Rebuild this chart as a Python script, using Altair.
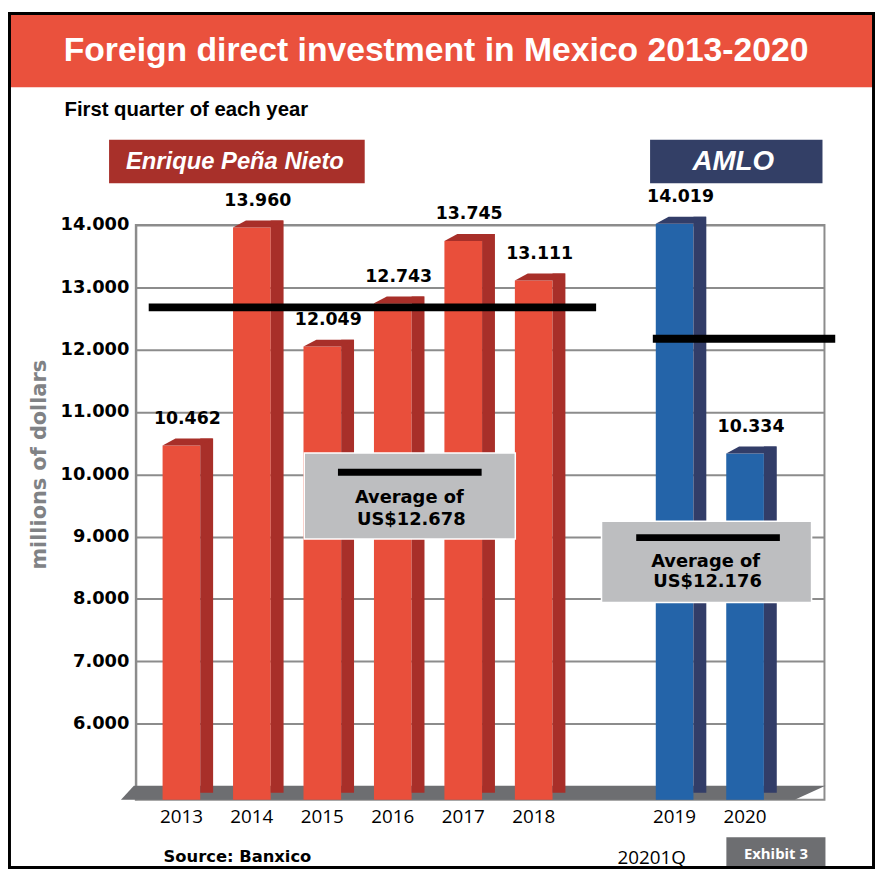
import altair as alt
import pandas as pd

# ---------------- data ----------------
years = ["2013", "2014", "2015", "2016", "2017", "2018", "2019", "2020"]
fdi = [10462, 13960, 12049, 12743, 13745, 13111, 14019, 10334]
term = ["EPN", "EPN", "EPN", "EPN", "EPN", "EPN", "AMLO", "AMLO"]
x_slots = ["2013", "2014", "2015", "2016", "2017", "2018", " ", "2019", "2020"]
y_tick_values = [6000, 7000, 8000, 9000, 10000, 11000, 12000, 13000, 14000]
y_base = 4780
y_top = 14000

title_text = "Foreign direct investment in Mexico 2013-2020"
subtitle_text = "First quarter of each year"
epn_name = "Enrique Peña Nieto"
amlo_name = "AMLO"
y_title = "millions of dollars"
source_text = "Source: Banxico"
period_text = "20201Q"
exhibit_text = "Exhibit 3"


def dotted(v):
    return f"{v:,}".replace(",", ".")


df = pd.DataFrame({"year": years, "fdi": fdi, "term": term,
                   "label": [dotted(v) for v in fdi]})

epn_vals = [v for v, t in zip(fdi, term) if t == "EPN"]
amlo_vals = [v for v, t in zip(fdi, term) if t == "AMLO"]
epn_years = [y for y, t in zip(years, term) if t == "EPN"]
amlo_years = [y for y, t in zip(years, term) if t == "AMLO"]
epn_avg = int(sum(epn_vals) / len(epn_vals))
amlo_avg = int(sum(amlo_vals) / len(amlo_vals))

# ---------------- styling ----------------
W, H = 695, 580
SANS = "Liberation Sans, Arial, sans-serif"
HEAVY = "DejaVu Sans"
REG = "Open Sans"
RED_FRONT, RED_SIDE = "#e94f3b", "#a82f29"
BLUE_FRONT, BLUE_SIDE = "#2464a9", "#323d68"
GRID = "#8c8c8c"

TOP_PATH = "M -1 0 L 0.4902 0 L 1 -0.2745 L -0.4902 -0.2745 Z"
FLOOR_PATH = "M -0.9634 -0.0197 L 1 -0.0197 L 0.9128 0.0197 L -1 0.0197 Z"

one = alt.Data(values=[{}])

x_enc = alt.X("year:N",
              scale=alt.Scale(domain=x_slots, paddingInner=0, paddingOuter=0.387, align=0.19),
              axis=alt.Axis(title=None, labelFont=REG, labelFontSize=19, labelColor="black",
                            labelAngle=0, domain=False, ticks=False, grid=False, labelPadding=8))
y_scale = alt.Scale(domain=[y_base, y_top], zero=False, nice=False)
y_enc = alt.Y("fdi:Q", scale=y_scale,
              axis=alt.Axis(title=None, values=y_tick_values, grid=True, gridColor=GRID, gridWidth=2,
                            domainColor=GRID, domainWidth=2, ticks=False, labelPadding=7,
                            labelFont=HEAVY, labelFontWeight="bold", labelFontSize=18,
                            labelColor="black",
                            labelExpr="replace(format(datum.value, ','), ',', '.')"))

base = alt.Chart(df)

floor = alt.Chart(one).mark_point(shape=FLOOR_PATH, size=711 ** 2, filled=True, opacity=1,
                                  strokeWidth=0, color="#6d6e71").encode(
    x=alt.value(340.5), y=alt.value(573))

front = base.mark_bar(width=38).encode(
    x=x_enc, y=y_enc, y2=alt.datum(y_base),
    color=alt.Color("term:N", scale=alt.Scale(domain=["EPN", "AMLO"], range=[RED_FRONT, BLUE_FRONT]),
                    legend=None))

side = base.mark_bar(width=13, xOffset=25.5, yOffset=-7, y2Offset=-7).encode(
    x=alt.X("year:N"), y=alt.Y("fdi:Q"), y2=alt.datum(y_base),
    color=alt.Color("term:N", scale=alt.Scale(domain=["EPN", "AMLO"], range=[RED_SIDE, BLUE_SIDE]),
                    legend=None))

top = base.mark_point(shape=TOP_PATH, size=51 ** 2, filled=True, opacity=1, strokeWidth=0,
                      xOffset=6.5).encode(
    x=alt.X("year:N"), y=alt.Y("fdi:Q"),
    color=alt.Color("term:N", scale=alt.Scale(domain=["EPN", "AMLO"], range=[RED_SIDE, BLUE_SIDE]),
                    legend=None))

labels = base.mark_text(font=HEAVY, fontWeight="bold", fontSize=17.5, color="black",
                        baseline="alphabetic", dx=6, dy=-22).encode(
    x=alt.X("year:N"), y=alt.Y("fdi:Q"), text="label:N")

epn_line = alt.Chart(pd.DataFrame({"a": [epn_years[0]], "b": [epn_years[-1]], "fdi": [epn_avg]})).mark_rule(
    strokeWidth=8, color="black", strokeCap="butt", xOffset=-33, x2Offset=63).encode(
    x=alt.X("a:N"), x2="b:N", y=alt.Y("fdi:Q"))
amlo_line = alt.Chart(pd.DataFrame({"a": [amlo_years[0]], "b": [amlo_years[-1]], "fdi": [amlo_avg]})).mark_rule(
    strokeWidth=8, color="black", strokeCap="butt", xOffset=-22, x2Offset=91).encode(
    x=alt.X("a:N"), x2="b:N", y=alt.Y("fdi:Q"))


def box(x1, x2, y1, y2, fill, stroke=None, sw=0):
    kw = dict(fill=fill, strokeWidth=sw)
    if stroke:
        kw["stroke"] = stroke
    return alt.Chart(one).mark_rect(**kw).encode(
        x=alt.value(x1), x2=alt.value(x2), y=alt.value(y1), y2=alt.value(y2))


def txt(s, x, y, size, font, color="black", weight="normal", style="normal", align="center",
        baseline="alphabetic", angle=0):
    return alt.Chart(one).mark_text(text=s, font=font, fontSize=size, color=color, fontWeight=weight,
                                    fontStyle=style, align=align, baseline=baseline, angle=angle).encode(
        x=alt.value(x), y=alt.value(y))


epn_box = box(170, 383, 230, 317, "#bdbec0", "white", 1.5)
epn_bar = box(204, 349, 246, 253, "black")
epn_t1 = txt("Average of", 276, 281, 18, HEAVY, weight="bold")
epn_t2 = txt("US$" + dotted(epn_avg), 278, 303, 18, HEAVY, weight="bold")

amlo_box = box(470, 682, 299, 381, "#bdbec0", "white", 1.5)
amlo_bar = box(505, 650, 312, 319, "black")
amlo_t1 = txt("Average of", 575, 345, 18, HEAVY, weight="bold")
amlo_t2 = txt("US$" + dotted(amlo_avg), 577, 365, 18, HEAVY, weight="bold")

header = box(-137, 746, -213, -139, "#ea513d")
frame = alt.Chart(one).mark_rect(fillOpacity=0, stroke="black", strokeWidth=3).encode(
    x=alt.value(-127.5), x2=alt.value(744.5), y=alt.value(-213.5), y2=alt.value(648.5))
title = txt(title_text, 303, -166, 34, SANS, color="white", weight="bold")
subtitle = txt(subtitle_text, -72, -110, 20.5, SANS, weight="bold", align="left")
epn_tag = box(-27, 231, -86, -42, "#a8302a")
epn_tag_t = txt(epn_name, 100, -64, 24, SANS, color="white", weight="bold", style="italic",
                baseline="middle")
amlo_tag = box(519, 693, -86, -42, "#333f66")
amlo_tag_t = txt(amlo_name, 603, -64, 28, SANS, color="white", weight="bold", style="italic",
                 baseline="middle")
ytitle = txt(y_title, -97, 242, 21, HEAVY, color="#808285", weight="bold", baseline="middle",
             angle=270)
source = txt(source_text, 28, 643, 16.5, HEAVY, weight="bold", align="left")
period = txt(period_text, 486, 645, 19, REG, align="left")
exhibit_box = box(596, 696, 618, 650, "#6d6e71")
exhibit_t = txt(exhibit_text, 646, 640, 15, REG, color="white", weight="bold")

chart = alt.layer(
    floor, front, side, top, epn_line, amlo_line,
    epn_box, epn_bar, epn_t1, epn_t2, amlo_box, amlo_bar, amlo_t1, amlo_t2,
    labels,
    header, title, subtitle, epn_tag, epn_tag_t, amlo_tag, amlo_tag_t, ytitle,
    source, period, exhibit_box, exhibit_t, frame,
).resolve_scale(color="independent").properties(
    width=W, height=H,
    autosize=alt.AutoSizeParams(type="none"),
    padding={"left": 129, "top": 215, "right": 51, "bottom": 70},
    background="white",
).configure_view(stroke=GRID, strokeWidth=2)

chart.save("out.html", embed_options={"renderer": "svg", "actions": False})
